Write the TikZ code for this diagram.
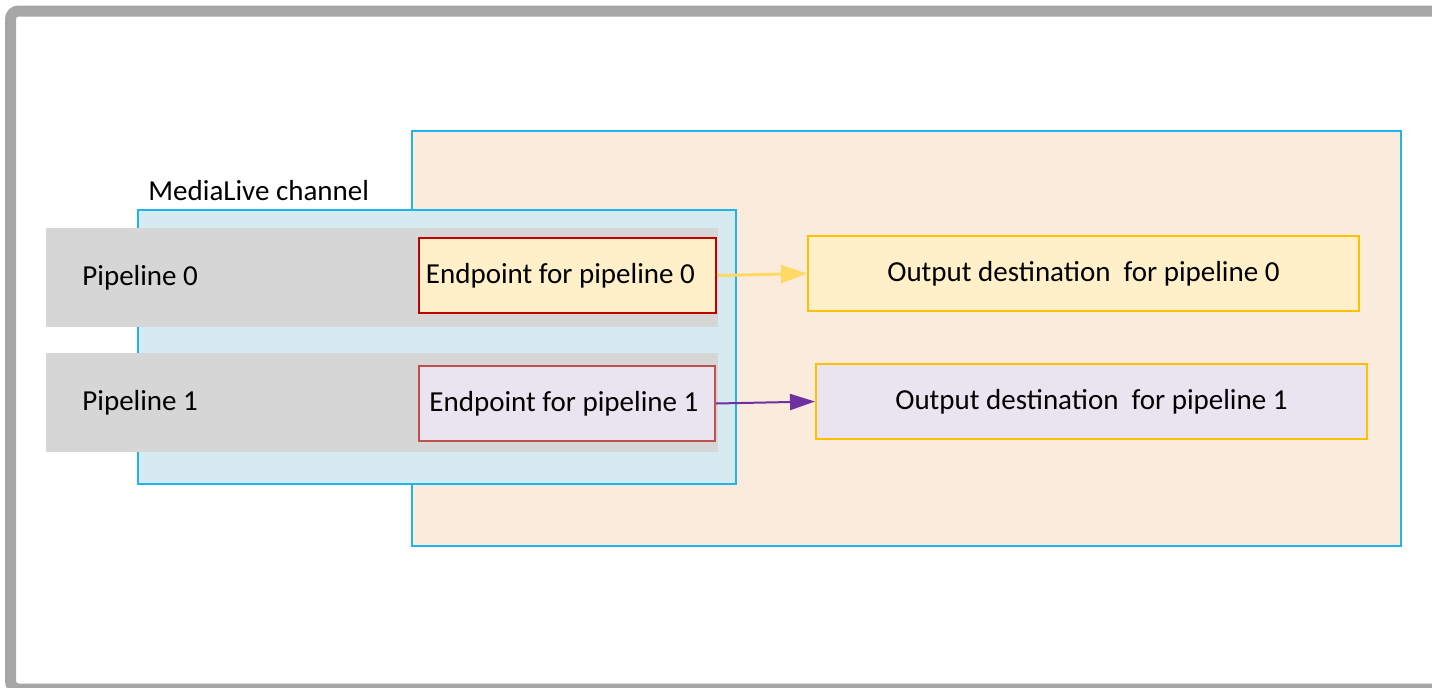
\documentclass[tikz,border=0pt]{standalone}
\usepackage{fontspec}
\setmainfont{Carlito}
\usetikzlibrary{arrows.meta}
\definecolor{framegray}{HTML}{A6A6A6}
\definecolor{peach}{HTML}{FAEBDD}
\definecolor{cyanline}{HTML}{1FB5EC}
\definecolor{chanblue}{HTML}{D6EAF1}
\definecolor{bandgray}{HTML}{D6D6D6}
\definecolor{ylwfill}{HTML}{FFF0C9}
\definecolor{lavfill}{HTML}{EAE4F0}
\definecolor{darkred}{HTML}{C00000}
\definecolor{softred}{HTML}{C0504D}
\definecolor{gold}{HTML}{FFC000}
\definecolor{arrowyellow}{HTML}{FFD966}
\definecolor{arrowpurple}{HTML}{7030A0}
\tikzset{
  region/.style={draw=cyanline, line width=1pt, rectangle, inner sep=0pt},
  band/.style={fill=bandgray, draw=none, rectangle, inner sep=0pt, minimum width=336pt, minimum height=49.5pt},
  endpt/.style={rectangle, line width=1pt, inner sep=0pt, minimum width=148.5pt, minimum height=37.5pt, font=\fontsize{14.5}{17}\selectfont},
  outbox/.style={rectangle, draw=gold, line width=1pt, inner sep=0pt, minimum width=275.5pt, minimum height=37.5pt, font=\fontsize{14.5}{17}\selectfont},
  lbl/.style={anchor=west, inner sep=0pt, font=\fontsize{14.5}{17}\selectfont},
}
\begin{document}
\begin{tikzpicture}[x=0.5pt,y=-0.5pt]
\useasboundingbox (0,0) rectangle (1432,687);
\begin{scope}
\clip (0,0) rectangle (1432,687);
\draw[framegray, line width=5.5pt, rounded corners=4pt] (10.5,11) rectangle (1460,689);
\end{scope}
\node[region, fill=peach, minimum width=494.5pt, minimum height=207.5pt] (bg) at (906.5,338.5) {};
\node[region, fill=chanblue, minimum width=299pt, minimum height=137pt] (chan) at (437,347) {};
\node[lbl] (chanlbl) at (148,191) {MediaLive channel};
\node[band] (band0) at (382,277.5) {};
\node[band] (band1) at (382,402.5) {};
\node[lbl] (p0) at (82,278) {Pipeline 0};
\node[lbl] (p1) at (82,403) {Pipeline 1};
\node[endpt, draw=darkred, fill=ylwfill] (e0) at (567.5,275.5) {\hspace*{-7pt}Endpoint for pipeline 0};
\node[endpt, draw=softred, fill=lavfill, minimum width=148pt] (e1) at (567,403.5) {\hspace*{-3pt}Endpoint for pipeline 1};
\node[outbox, fill=ylwfill] (o0) at (1083.5,273.5) {Output destination\ \ for pipeline 0};
\node[outbox, fill=lavfill] (o1) at (1091.5,401.5) {Output destination\ \ for pipeline 1};
\draw[arrowyellow, line width=1.5pt, -{Triangle[length=13pt,width=9pt]}] (e0.east) -- (o0.west);
\draw[arrowpurple, line width=1pt, -{Triangle[length=12.5pt,width=8pt]}] (e1.east) -- (o1.west);
\end{tikzpicture}
\end{document}
